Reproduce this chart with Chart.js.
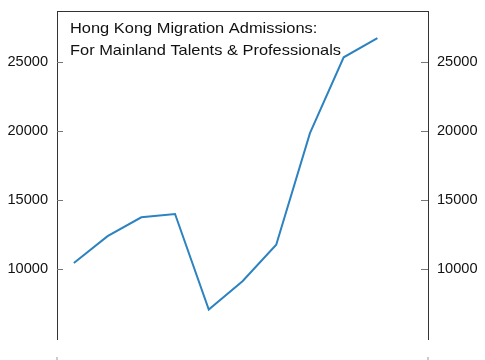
<!DOCTYPE html>
<html lang="en">
<head>
    <meta charset="UTF-8">
    <title>Hong Kong Migration Admissions</title>
    <script src="https://cdn.jsdelivr.net/npm/chart.js"></script>
    <style>
        html, body { margin: 0; padding: 0; background: #fff; }
        #wrap { width: 485px; height: 360px; }
    </style>
</head>
<body>
    <div id="wrap"><canvas id="myChart" width="485" height="360"></canvas></div>

    <script>
        // data (last slot is empty)
        const years = ['2010', '2011', '2012', '2013', '2014', '2015', '2016', '2017', '2018', '2019', '2020'];
        const admissions = [10430, 12380, 13740, 13980, 7070, 9120, 11760, 19830, 25310, 26690, null];
        const yTicks = [10000, 15000, 20000, 25000];
        const titleLines = ['Hong Kong Migration Admissions:', 'For Mainland Talents & Professionals'];

        const axisColor = '#333333';
        const fontFamily = '"Liberation Sans", Arial, sans-serif';

        // inward tick marks, top border and title
        const framePlugin = {
            id: 'frame',
            afterDraw(chart) {
                const ctx = chart.ctx;
                const area = chart.chartArea;
                ctx.save();
                ctx.strokeStyle = axisColor;
                ctx.lineWidth = 1;
                ctx.beginPath();
                ctx.moveTo(area.left, Math.round(area.top) + 0.5);
                ctx.lineTo(area.right, Math.round(area.top) + 0.5);
                ctx.stroke();

                ctx.strokeStyle = '#777';
                yTicks.forEach(function(v) {
                    const y = Math.round(chart.scales.y.getPixelForValue(v)) + 0.5;
                    ctx.beginPath();
                    ctx.moveTo(area.left, y);
                    ctx.lineTo(area.left + 6, y);
                    ctx.moveTo(area.right - 7, y);
                    ctx.lineTo(area.right, y);
                    ctx.stroke();
                });

                // stubs of the next panel below
                ctx.strokeStyle = '#999';
                ctx.beginPath();
                ctx.moveTo(area.left, 357);
                ctx.lineTo(area.left, 360);
                ctx.moveTo(area.right, 357);
                ctx.lineTo(area.right, 360);
                ctx.stroke();

                // title, a bit wider than the plain font
                ctx.fillStyle = '#111';
                ctx.font = '14.6px ' + fontFamily;
                ctx.textBaseline = 'alphabetic';
                ctx.translate(area.left + 13, 0);
                ctx.scale(1.125, 1);
                ctx.fillText(titleLines[0], 0, 32.7);
                ctx.fillText(titleLines[1], 0, 55);
                ctx.restore();
            }
        };

        const tickFont = { family: fontFamily, size: 14.6 };

        function yAxis(pos) {
            return {
                position: pos,
                min: 4940,
                max: 28660,
                afterBuildTicks: function(scale) {
                    scale.ticks = yTicks.map(function(v) { return { value: v }; });
                },
                afterFit: function(scale) {
                    scale.width = 57;
                    scale.paddingTop = 0;
                    scale.paddingBottom = 0;
                },
                grid: { display: false, drawTicks: false, tickLength: 0 },
                border: { display: true, color: axisColor, width: 1 },
                ticks: { color: '#111', font: tickFont, padding: 9, callback: function(v) { return String(v); } }
            };
        }

        const config = {
            type: 'line',
            data: {
                labels: years,
                datasets: [{
                    label: 'Admissions',
                    data: admissions,
                    borderColor: '#2d82c0',
                    borderWidth: 2,
                    pointRadius: 0,
                    tension: 0,
                    fill: false
                }]
            },
            options: {
                responsive: false,
                animation: false,
                layout: { padding: { top: 11, bottom: 21, left: 0, right: 0 } },
                plugins: { legend: { display: false }, tooltip: { enabled: false } },
                scales: {
                    x: {
                        type: 'category',
                        offset: true,
                        display: false
                    },
                    y: yAxis('left'),
                    y2: yAxis('right')
                }
            },
            plugins: [framePlugin]
        };

        const myChart = new Chart(document.getElementById('myChart'), config);
    </script>
</body>
</html>
